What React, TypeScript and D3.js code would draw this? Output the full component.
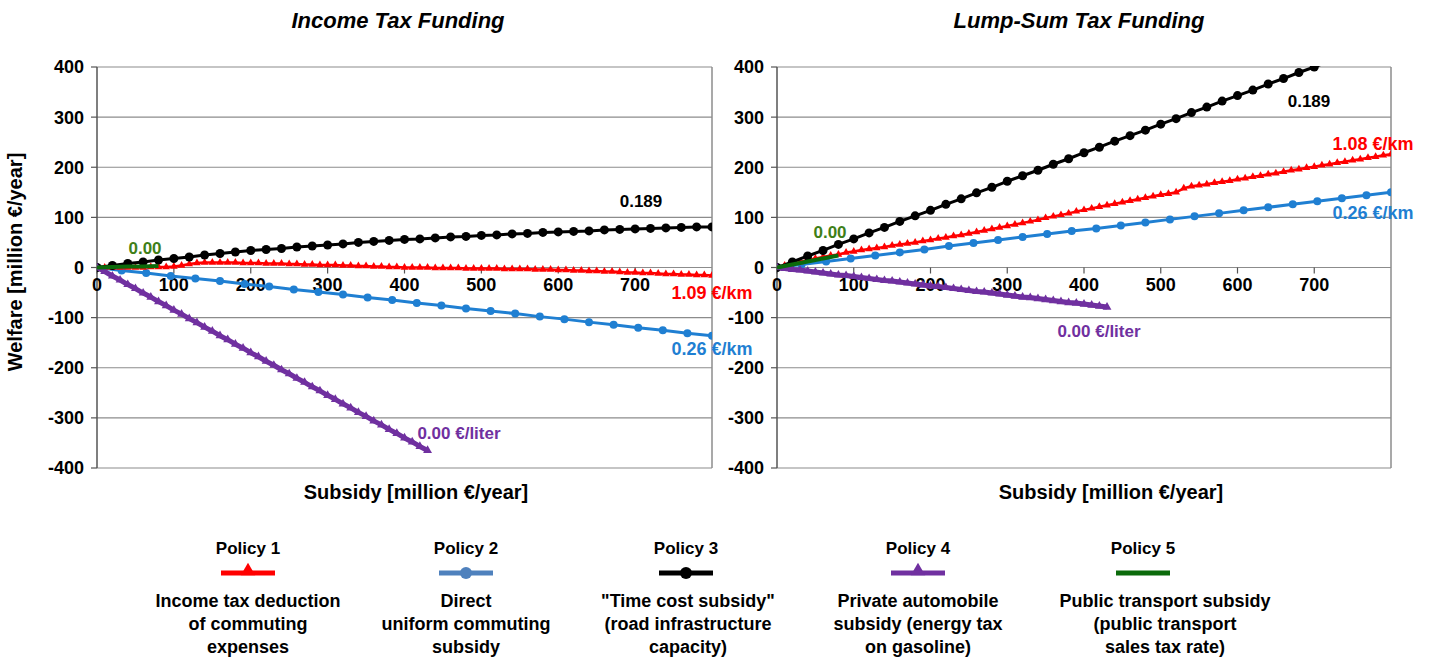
import React from 'react';
import * as d3 from 'd3';

// subsidy grid (million €/year) for each marker series
const xStep10 = d3.range(0, 801, 10);
const xStep20 = d3.range(0, 801, 20);
const xStep32 = d3.range(0, 833, 32);
const xPurple = d3.range(0, 431, 10);
const xGreen = [0, 20, 40, 60, 80];

// Income tax funding (left panel)
const incRed = [0, 0, 0, 0, 0, 0, 0, 1, 1, 1, 2, 4, 7, 9, 10, 10, 10, 10, 10, 9, 9,
  9, 8, 8, 8, 7, 7, 6, 6, 5, 5, 5, 4, 4, 3, 3, 2, 2, 1, 1, 0,
  0, 0, 0, -1, -1, -1, -1, -2, -2, -2, -2, -2, -3, -3, -3, -3, -4, -4, -4, -5,
  -5, -6, -6, -7, -7, -8, -8, -9, -10, -10, -11, -11, -12, -13, -13, -14, -14, -15, -15, -16];
const incBlue = [0, -6, -11, -17, -22, -27, -33, -38, -44, -49, -54, -60, -65, -71, -76, -82,
  -87, -92, -98, -103, -109, -114, -120, -125, -131, -136, -141];
const incBlack = [0, 4, 8, 11, 15, 18, 21, 25, 28, 31, 34, 36, 38, 41, 43, 45, 47, 50, 52, 54, 56,
  57, 59, 61, 62, 64, 65, 67, 68, 70, 71, 72, 73, 75, 76, 77, 78, 79, 80, 81, 81];
const incPurple = [0, -8, -17, -25, -34, -42, -51, -59, -68, -76, -85, -93, -102, -110, -119, -127,
  -136, -144, -153, -161, -170, -178, -187, -195, -204, -212, -221, -229, -238, -246, -255, -263,
  -272, -280, -289, -297, -306, -314, -323, -331, -340, -348, -357, -365];
const incGreen = [0, 1, 2, 2, 3];

// Lump-sum tax funding (right panel)
const lumpRed = [0, 4, 8, 11, 15, 18, 21, 24, 26, 30, 32,
  35, 37, 39, 41, 44, 46, 48, 50, 53, 55, 58, 60, 63, 65, 68, 71, 74, 77, 80, 83,
  86, 89, 92, 95, 99, 102, 105, 108, 112, 115, 118, 121, 124, 127, 130, 133, 136, 139, 142, 145,
  147, 150, 158, 162, 164, 166, 169, 171, 173, 176, 178, 181, 183, 186, 188, 191, 194, 196, 199, 201,
  204, 206, 209, 211, 214, 216, 219, 221, 224, 226];
const lumpBlue = [0, 6, 12, 18, 24, 30, 36, 43, 49, 55, 61, 67, 73, 78, 84, 90, 96, 102, 108, 114,
  120, 126, 132, 138, 144, 150, 156];
const lumpBlack = [0, 11, 23, 34, 46, 57, 69, 80, 92, 103, 114, 126, 137, 149, 160, 172, 183, 194,
  206, 217, 229, 240, 252, 263, 274, 286, 297, 309, 320, 332, 343, 354, 366, 377, 389, 400, 412];
const lumpPurple = [0, -2, -4, -5, -7, -9, -11, -13, -15, -16, -18, -20, -22, -24, -26, -27, -29, -31,
  -33, -35, -37, -38, -40, -42, -44, -46, -48, -49, -51, -53, -55, -57, -59, -60, -62, -64, -66, -68,
  -70, -71, -73, -75, -77, -79];
const lumpGreen = [0, 6, 12, 18, 24];

const xTicks = [0, 100, 200, 300, 400, 500, 600, 700];
const yTicks = [-400, -300, -200, -100, 0, 100, 200, 300, 400];

const policyTitles = ['Policy 1', 'Policy 2', 'Policy 3', 'Policy 4', 'Policy 5'];
const policyTexts = [
  ['Income tax deduction', 'of commuting', 'expenses'],
  ['Direct', 'uniform commuting', 'subsidy'],
  ['"Time cost subsidy"', '(road infrastructure', 'capacity)'],
  ['Private automobile', 'subsidy (energy tax', 'on gasoline)'],
  ['Public transport subsidy', '(public transport', 'sales tax rate)'],
];

const RED = '#ff0000';
const BLUE = '#1f7fd2';
const BLACK = '#000000';
const PURPLE = '#7030a0';
const GREEN = '#0b6b0b';
const LABEL_GREEN = '#3f7f18';

const FONT = 'Liberation Sans, Arial, sans-serif';

type Series = { xs: number[]; ys: number[]; color: string; width: number; marker: 'circle' | 'triangle' | 'none'; size: number };

function Panel({ id, x0, x1, title, titleX, axisX, series, labels }: {
  id: string; x0: number; x1: number; title: string; titleX: number; axisX: number; series: Series[];
  labels: { text: string; x: number; y: number; color: string; size: number }[];
}) {
  const y0 = 67, y1 = 468;
  const x = d3.scaleLinear().domain([0, 800]).range([x0, x1]);
  const y = d3.scaleLinear().domain([-400, 400]).range([y1, y0]);
  const tri = d3.symbol().type(d3.symbolTriangle);
  return (
    <g>
      <defs>
        <clipPath id={id}>
          <rect x={x0} y={y0 - 1} width={x1 - x0} height={y1 - y0 + 2} />
        </clipPath>
      </defs>
      <text x={titleX} y={28} textAnchor="middle" fontSize={22} fontWeight="bold" fontStyle="italic">{title}</text>
      {yTicks.map(t => (
        <g key={t}>
          <line x1={x0} x2={x1} y1={y(t)} y2={y(t)} stroke="#8c8c8c" strokeWidth={1.2} />
          <line x1={x0 - 6} x2={x0} y1={y(t)} y2={y(t)} stroke="#555" strokeWidth={1.2} />
          <text x={x0 - 13} y={y(t)} dy="0.36em" textAnchor="end" fontSize={18} fontWeight="bold">{t}</text>
        </g>
      ))}
      <line x1={x1} x2={x1} y1={y0} y2={y1} stroke="#8c8c8c" strokeWidth={1.5} />
      <line x1={x0} x2={x0} y1={y0} y2={y1} stroke="#555" strokeWidth={1.5} />
      {xTicks.map(t => (
        <g key={t}>
          <line x1={x(t)} x2={x(t)} y1={y(0)} y2={y(0) + 6} stroke="#555" strokeWidth={1.2} />
          <text x={x(t)} y={y(0) + 23} textAnchor="middle" fontSize={18} fontWeight="bold">{t}</text>
        </g>
      ))}
      <text x={axisX} y={499} textAnchor="middle" fontSize={20} fontWeight="bold">Subsidy [million €/year]</text>
      <g clipPath={`url(#${id})`}>
        {series.map((s, i) => {
          const pts = s.ys.map((v, k) => [x(s.xs[k]), y(v)] as [number, number]);
          return (
            <g key={i}>
              <path d={d3.line()(pts) ?? ''} fill="none" stroke={s.color} strokeWidth={s.width} strokeLinejoin="round" />
              {s.marker === 'circle' && pts.map((p, k) => <circle key={k} cx={p[0]} cy={p[1]} r={s.size} fill={s.color} />)}
              {s.marker === 'triangle' && pts.map((p, k) => (
                <path key={k} d={tri.size(s.size)() ?? ''} transform={`translate(${p[0]},${p[1]})`} fill={s.color} />
              ))}
            </g>
          );
        })}
      </g>
      {labels.map((l, i) => (
        <text key={i} x={l.x} y={l.y} dy="0.35em" textAnchor="middle" fontSize={l.size} fontWeight="bold" fill={l.color}>{l.text}</text>
      ))}
    </g>
  );
}

export default function App() {
  const leftSeries: Series[] = [
    { xs: xStep32, ys: incBlue, color: BLUE, width: 3, marker: 'circle', size: 4 },
    { xs: xStep10, ys: incRed, color: RED, width: 2.5, marker: 'triangle', size: 26 },
    { xs: xStep20, ys: incBlack, color: BLACK, width: 3, marker: 'circle', size: 4.5 },
    { xs: xPurple, ys: incPurple, color: PURPLE, width: 5, marker: 'triangle', size: 34 },
    { xs: xGreen, ys: incGreen, color: GREEN, width: 4, marker: 'none', size: 0 },
  ];
  const rightSeries: Series[] = [
    { xs: xStep32, ys: lumpBlue, color: BLUE, width: 3, marker: 'circle', size: 4 },
    { xs: xStep10, ys: lumpRed, color: RED, width: 2.5, marker: 'triangle', size: 26 },
    { xs: xStep20.slice(0, lumpBlack.length), ys: lumpBlack, color: BLACK, width: 3, marker: 'circle', size: 4.5 },
    { xs: xPurple, ys: lumpPurple, color: PURPLE, width: 5, marker: 'triangle', size: 34 },
    { xs: xGreen, ys: lumpGreen, color: GREEN, width: 4, marker: 'none', size: 0 },
  ];
  const legendX = [248, 466, 686, 918, 1143];
  const legendTextX = [248, 466, 688, 918, 1165];
  const legendColors = [RED, '#4f81bd', BLACK, PURPLE, GREEN];
  const legendMarkers = ['triangle', 'circle', 'circle', 'triangle', 'none'];
  return (
    <svg width={1435} height={660} style={{ position: 'absolute', left: 0, top: 0, background: '#fff' }} fontFamily={FONT}>
      <rect width={1435} height={660} fill="#fff" />
      <Panel id="clipL" x0={97} x1={712} title="Income Tax Funding" titleX={398} axisX={416} series={leftSeries} labels={[
        { text: '0.00', x: 145, y: 248, color: LABEL_GREEN, size: 17 },
        { text: '0.189', x: 641, y: 201, color: BLACK, size: 17 },
        { text: '1.09 €/km', x: 712, y: 293, color: RED, size: 18 },
        { text: '0.26 €/km', x: 712, y: 349, color: BLUE, size: 18 },
        { text: '0.00 €/liter', x: 459, y: 433, color: PURPLE, size: 17 },
      ]} />
      <Panel id="clipR" x0={777} x1={1391} title="Lump-Sum Tax Funding" titleX={1079} axisX={1111} series={rightSeries} labels={[
        { text: '0.00', x: 830, y: 232, color: LABEL_GREEN, size: 17 },
        { text: '0.189', x: 1309, y: 101, color: BLACK, size: 17 },
        { text: '1.08 €/km', x: 1373, y: 144, color: RED, size: 18 },
        { text: '0.26 €/km', x: 1373, y: 213, color: BLUE, size: 18 },
        { text: '0.00 €/liter', x: 1099, y: 331, color: PURPLE, size: 17 },
      ]} />
      <text transform="translate(22,262) rotate(-90)" textAnchor="middle" fontSize={20} fontWeight="bold">Welfare [million €/year]</text>
      {policyTitles.map((t, i) => {
        const cx = legendX[i];
        return (
          <g key={t}>
            <text x={cx} y={554} textAnchor="middle" fontSize={17} fontWeight="bold">{t}</text>
            <line x1={cx - 27} x2={cx + 27} y1={573} y2={573} stroke={legendColors[i]} strokeWidth={5} />
            {legendMarkers[i] === 'circle' && <circle cx={cx} cy={573} r={6} fill={legendColors[i]} />}
            {legendMarkers[i] === 'triangle' && (
              <path d={d3.symbol().type(d3.symbolTriangle).size(90)() ?? ''} transform={`translate(${cx},${571})`} fill={legendColors[i]} />
            )}
            {policyTexts[i].map((line, k) => (
              <text key={k} x={legendTextX[i]} y={607 + k * 23} textAnchor="middle" fontSize={18} fontWeight="bold">{line}</text>
            ))}
          </g>
        );
      })}
    </svg>
  );
}
